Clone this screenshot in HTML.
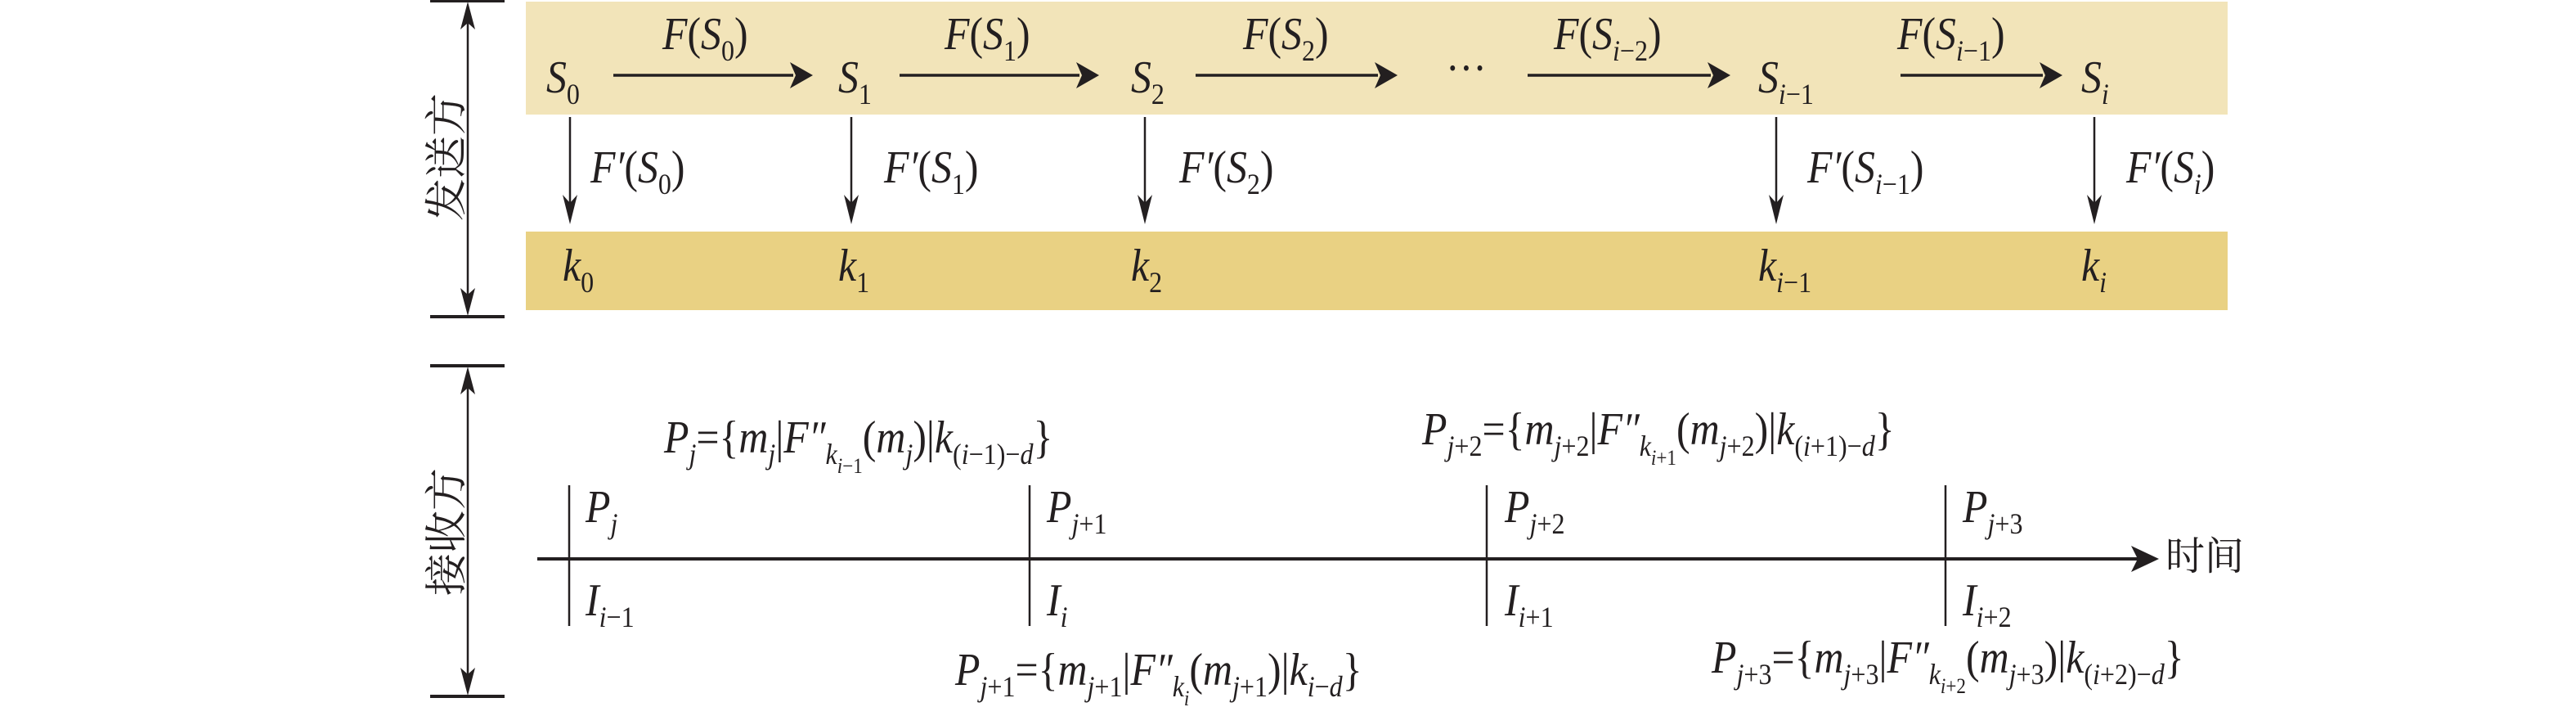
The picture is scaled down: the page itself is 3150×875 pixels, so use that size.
<!DOCTYPE html>
<html><head><meta charset="utf-8"><style>
html,body{margin:0;padding:0;background:#fff;}
#c{position:relative;width:3150px;height:875px;overflow:hidden;font-family:"Liberation Serif",serif;color:#231f20;}
.t{position:absolute;font-size:56px;line-height:56px;font-style:italic;white-space:nowrap;transform:scaleX(0.89);transform-origin:0 0;margin-top:-4px;}
.t .s{font-size:36px;position:relative;top:14px;}
.t .ss{font-size:26px;position:relative;top:11px;}
.t .u{font-style:normal;}
.cn{position:absolute;font-family:"Liberation Serif","Noto Serif CJK SC",serif;font-size:48px;line-height:48px;color:#231f20;}
</style></head><body><div id="c">
<svg width="3150" height="875" style="position:absolute;left:0;top:0">
<rect x="643" y="2" width="2081" height="138" fill="#f2e4b9"/>
<rect x="643" y="283" width="2081" height="96" fill="#e9d183"/>
<g stroke="#231f20" fill="none">
<line x1="526" y1="1" x2="617" y2="1" stroke-width="4"/>
<line x1="526" y1="387" x2="617" y2="387" stroke-width="4"/>
<line x1="572" y1="10" x2="572" y2="378" stroke-width="2.5"/>
<line x1="526" y1="447" x2="617" y2="447" stroke-width="4"/>
<line x1="526" y1="851" x2="617" y2="851" stroke-width="4"/>
<line x1="572" y1="456" x2="572" y2="842" stroke-width="2.5"/>
<g stroke-width="3.5">
<line x1="750" y1="92" x2="970" y2="92"/>
<line x1="1100" y1="92" x2="1320" y2="92"/>
<line x1="1462" y1="92" x2="1685" y2="92"/>
<line x1="1868" y1="92" x2="2092" y2="92"/>
<line x1="2324" y1="92" x2="2498" y2="92"/>
</g>
<g stroke-width="2.5">
<line x1="697" y1="143" x2="697" y2="255"/>
<line x1="1041" y1="143" x2="1041" y2="255"/>
<line x1="1400" y1="143" x2="1400" y2="255"/>
<line x1="2172" y1="143" x2="2172" y2="255"/>
<line x1="2561" y1="143" x2="2561" y2="255"/>
<line x1="696" y1="593" x2="696" y2="765"/>
<line x1="1259" y1="593" x2="1259" y2="765"/>
<line x1="1818" y1="593" x2="1818" y2="765"/>
<line x1="2379" y1="593" x2="2379" y2="765"/>
</g>
<line x1="657" y1="683" x2="2615" y2="683" stroke-width="4"/>
</g>
<g fill="#231f20">
<polygon points="994,92 966,76 973,92 966,108"/>
<polygon points="1344,92 1316,76 1323,92 1316,108"/>
<polygon points="1709,92 1681,76 1688,92 1681,108"/>
<polygon points="2116,92 2088,76 2095,92 2088,108"/>
<polygon points="2522,92 2494,76 2501,92 2494,108"/>
<polygon points="697,274 688,238 697,248 706,238"/>
<polygon points="1041,274 1032,238 1041,248 1050,238"/>
<polygon points="1400,274 1391,238 1400,248 1409,238"/>
<polygon points="2172,274 2163,238 2172,248 2181,238"/>
<polygon points="2561,274 2552,238 2561,248 2570,238"/>
<polygon points="2640,683 2606,667 2614,683 2606,699"/>
<polygon points="572,2 563,36 572,28 581,36"/>
<polygon points="572,386 563,352 572,360 581,352"/>
<polygon points="572,448 563,482 572,474 581,482"/>
<polygon points="572,850 563,816 572,824 581,816"/>
</g>
<text x="0" y="0" transform="translate(546,192) rotate(-90)" text-anchor="middle" font-family="Liberation Serif,Noto Serif CJK SC,serif" font-size="52" fill="#231f20" dy="18">发送方</text>
<text x="0" y="0" transform="translate(546,650) rotate(-90)" text-anchor="middle" font-family="Liberation Serif,Noto Serif CJK SC,serif" font-size="52" fill="#231f20" dy="18">接收方</text>
</svg>

<div class="t" style="left:668px;top:71px">S<span class="s u">0</span></div>
<div class="t" style="left:1025px;top:71px">S<span class="s u">1</span></div>
<div class="t" style="left:1383px;top:71px">S<span class="s u">2</span></div>
<div class="t" style="left:1768px;top:60px"><span class="u">···</span></div>
<div class="t" style="left:2150px;top:71px">S<span class="s"><i>i</i><span class="u">−1</span></span></div>
<div class="t" style="left:2545px;top:71px">S<span class="s"><i>i</i></span></div>

<div class="t" style="left:810px;top:18px">F<span class="u">(</span>S<span class="s u">0</span><span class="u">)</span></div>
<div class="t" style="left:1155px;top:18px">F<span class="u">(</span>S<span class="s u">1</span><span class="u">)</span></div>
<div class="t" style="left:1520px;top:18px">F<span class="u">(</span>S<span class="s u">2</span><span class="u">)</span></div>
<div class="t" style="left:1900px;top:18px">F<span class="u">(</span>S<span class="s"><i>i</i><span class="u">−2</span></span><span class="u">)</span></div>
<div class="t" style="left:2320px;top:18px">F<span class="u">(</span>S<span class="s"><i>i</i><span class="u">−1</span></span><span class="u">)</span></div>

<div class="t" style="left:722px;top:181px">F′<span class="u">(</span>S<span class="s u">0</span><span class="u">)</span></div>
<div class="t" style="left:1081px;top:181px">F′<span class="u">(</span>S<span class="s u">1</span><span class="u">)</span></div>
<div class="t" style="left:1442px;top:181px">F′<span class="u">(</span>S<span class="s u">2</span><span class="u">)</span></div>
<div class="t" style="left:2210px;top:181px">F′<span class="u">(</span>S<span class="s"><i>i</i><span class="u">−1</span></span><span class="u">)</span></div>
<div class="t" style="left:2600px;top:181px">F′<span class="u">(</span>S<span class="s"><i>i</i></span><span class="u">)</span></div>

<div class="t" style="left:688px;top:301px">k<span class="s u">0</span></div>
<div class="t" style="left:1025px;top:301px">k<span class="s u">1</span></div>
<div class="t" style="left:1383px;top:301px">k<span class="s u">2</span></div>
<div class="t" style="left:2150px;top:301px">k<span class="s"><i>i</i><span class="u">−1</span></span></div>
<div class="t" style="left:2545px;top:301px">k<span class="s"><i>i</i></span></div>

<div class="t" style="left:716px;top:596px">P<span class="s">j</span></div>
<div class="t" style="left:1280px;top:596px">P<span class="s">j<span class="u">+1</span></span></div>
<div class="t" style="left:1840px;top:596px">P<span class="s">j<span class="u">+2</span></span></div>
<div class="t" style="left:2400px;top:596px">P<span class="s">j<span class="u">+3</span></span></div>
<div class="t" style="left:716px;top:710px">I<span class="s">i<span class="u">−1</span></span></div>
<div class="t" style="left:1280px;top:710px">I<span class="s">i</span></div>
<div class="t" style="left:1840px;top:710px">I<span class="s">i<span class="u">+1</span></span></div>
<div class="t" style="left:2400px;top:710px">I<span class="s">i<span class="u">+2</span></span></div>

<div class="t" style="left:812px;top:511px">P<span class="s">j</span><span class="u">={</span>m<span class="s">j</span><span class="u">|</span>F″<span class="s">k<span class="ss">i<span class="u">−1</span></span></span><span class="u">(</span>m<span class="s">j</span><span class="u">)|</span>k<span class="s"><span class="u">(</span>i<span class="u">−1)−</span>d</span><span class="u">}</span></div>
<div class="t" style="left:1739px;top:501px">P<span class="s">j<span class="u">+2</span></span><span class="u">={</span>m<span class="s">j<span class="u">+2</span></span><span class="u">|</span>F″<span class="s">k<span class="ss">i<span class="u">+1</span></span></span><span class="u">(</span>m<span class="s">j<span class="u">+2</span></span><span class="u">)|</span>k<span class="s"><span class="u">(</span>i<span class="u">+1)−</span>d</span><span class="u">}</span></div>
<div class="t" style="left:1168px;top:795px">P<span class="s">j<span class="u">+1</span></span><span class="u">={</span>m<span class="s">j<span class="u">+1</span></span><span class="u">|</span>F″<span class="s">k<span class="ss">i</span></span><span class="u">(</span>m<span class="s">j<span class="u">+1</span></span><span class="u">)|</span>k<span class="s">i<span class="u">−</span>d</span><span class="u">}</span></div>
<div class="t" style="left:2093px;top:780px">P<span class="s">j<span class="u">+3</span></span><span class="u">={</span>m<span class="s">j<span class="u">+3</span></span><span class="u">|</span>F″<span class="s">k<span class="ss">i<span class="u">+2</span></span></span><span class="u">(</span>m<span class="s">j<span class="u">+3</span></span><span class="u">)|</span>k<span class="s"><span class="u">(</span>i<span class="u">+2)−</span>d</span><span class="u">}</span></div>

<div class="cn" style="left:2648px;top:657px">时间</div>
</div></body></html>
